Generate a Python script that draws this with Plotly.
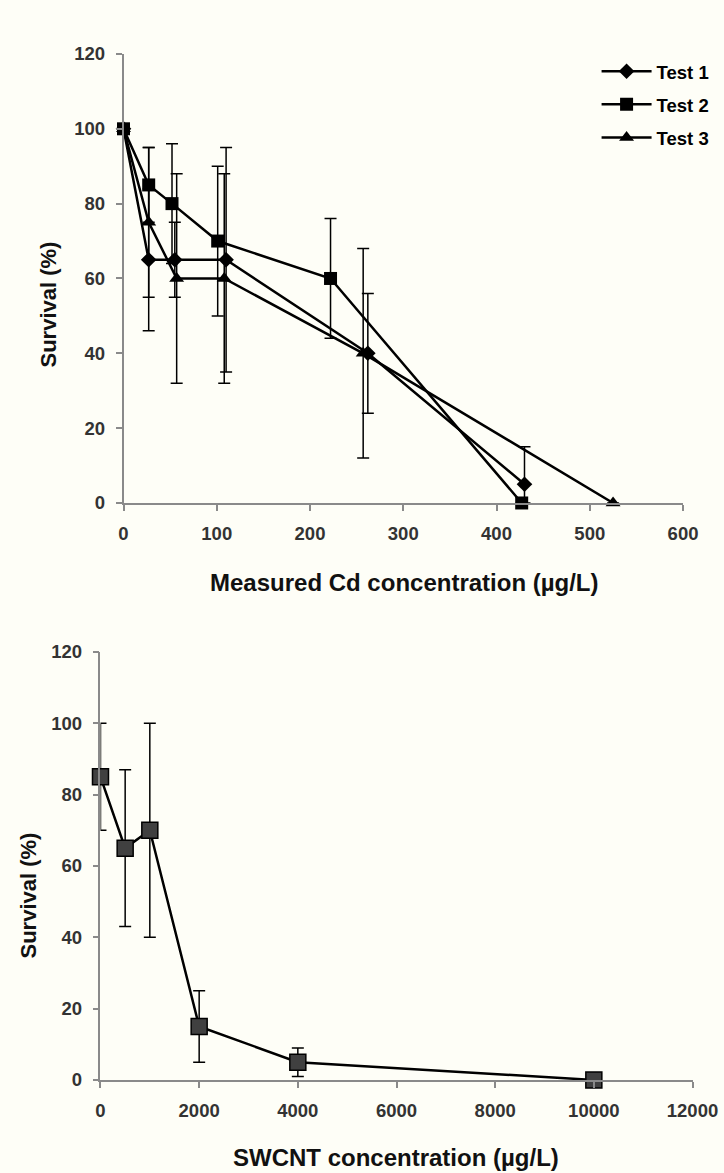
import plotly.graph_objects as go

# ---- Top chart data (Cd) ----
t1_x = [0, 27, 55, 110, 262, 430]
t1_y = [100, 65, 65, 65, 40, 5]
t1_ep = [None, 19, 10, 30, 16, 10]
t1_em = [None, 19, 10, 30, 16, 5]

t2_x = [0, 27, 52, 101, 222, 427]
t2_y = [100, 85, 80, 70, 60, 0]
t2_e = [None, 10, 16, 20, 16, None]

t3_x = [0, 27, 57, 108, 257, 525]
t3_y = [100, 75, 60, 60, 40, 0]
t3_e = [None, 20, 28, 28, 28, None]

# ---- Bottom chart data (SWCNT) ----
sw_x = [0, 500, 1000, 2000, 4000, 10000]
sw_y = [85, 65, 70, 15, 5, 0]
sw_e = [15, 22, 30, 10, 4, None]

top_xticks = [0, 100, 200, 300, 400, 500, 600]
bot_xticks = [0, 2000, 4000, 6000, 8000, 10000, 12000]
yticks = [0, 20, 40, 60, 80, 100, 120]

FONT = "Liberation Sans, Arial, sans-serif"
BG = "#fefef7"

def err(arr, minus=None):
    d = dict(type="data", array=arr, visible=True, color="black",
             thickness=1.5, width=6)
    if minus is not None:
        d["arrayminus"] = minus
        d["symmetric"] = False
    return d

fig = go.Figure()

fig.add_trace(go.Scatter(
    x=t1_x, y=t1_y, name="Test 1", mode="lines+markers",
    line=dict(color="black", width=2.5),
    marker=dict(symbol="diamond", size=12, color="black"),
    error_y=err(t1_ep, t1_em), cliponaxis=False,
    legendgroup="g1", xaxis="x", yaxis="y"))
fig.add_trace(go.Scatter(
    x=t2_x, y=t2_y, name="Test 2", mode="lines+markers",
    line=dict(color="black", width=2.5),
    marker=dict(symbol="square", size=13, color="black"),
    error_y=err(t2_e), cliponaxis=False,
    legendgroup="g2", xaxis="x", yaxis="y"))
fig.add_trace(go.Scatter(
    x=t3_x, y=t3_y, name="Test 3", mode="lines+markers",
    line=dict(color="black", width=2.5),
    marker=dict(symbol="triangle-up", size=13, color="black"),
    error_y=err(t3_e), cliponaxis=False,
    legendgroup="g3", xaxis="x", yaxis="y"))

fig.add_trace(go.Scatter(
    x=sw_x, y=sw_y, name="SWCNT", mode="lines+markers", showlegend=False,
    line=dict(color="black", width=2.5),
    marker=dict(symbol="square", size=16, color="#404040",
                line=dict(color="black", width=1.5)),
    error_y=err(sw_e), cliponaxis=False,
    xaxis="x2", yaxis="y2"))

axis_common = dict(
    showgrid=False, zeroline=False, showline=True, linecolor="#8a8a8a",
    linewidth=1.5, ticks="outside", ticklen=6, tickwidth=1.5,
    tickcolor="#8a8a8a", automargin=False, ticklabelstandoff=7,
    tickfont=dict(family=FONT, size=18.5, color="#333333", weight="bold"),
)

fig.update_layout(
    width=724, height=1173,
    margin=dict(l=0, r=0, t=0, b=0, autoexpand=False),
    paper_bgcolor=BG, plot_bgcolor=BG,
    font=dict(family=FONT, color="black"),
    xaxis=dict(domain=[0.1706, 0.9434], range=[0, 600], tickvals=top_xticks,
               ticktext=[str(v) for v in top_xticks],
               anchor="y", **axis_common),
    yaxis=dict(domain=[0.5712, 0.9540], range=[0, 120], tickvals=yticks,
               ticktext=[str(v) for v in yticks],
               anchor="x", **axis_common),
    xaxis2=dict(domain=[0.1388, 0.9565], range=[0, 12000], tickvals=bot_xticks,
                ticktext=[str(v) for v in bot_xticks],
                anchor="y2", **axis_common),
    yaxis2=dict(domain=[0.0793, 0.4442], range=[0, 120], tickvals=yticks,
                ticktext=[str(v) for v in yticks],
                anchor="x2", **axis_common),
    legend=dict(x=0.824, y=0.955, xanchor="left", yanchor="top",
                bgcolor="rgba(0,0,0,0)", traceorder="grouped",
                tracegroupgap=6, itemwidth=50,
                font=dict(family=FONT, size=18.5, color="black", weight="bold")),
    showlegend=True,
)

title_font_x = dict(family=FONT, size=24, color="#111111", weight="bold")
title_font_y = dict(family=FONT, size=22, color="#111111", weight="bold")

fig.add_annotation(text="Measured Cd concentration (µg/L)", xref="paper", yref="paper",
                   x=404 / 724, y=1 - 582 / 1173, showarrow=False, font=title_font_x,
                   xanchor="center", yanchor="middle")
fig.add_annotation(text="Survival (%)", xref="paper", yref="paper",
                   x=47.5 / 724, y=1 - 305 / 1173, showarrow=False, font=title_font_y,
                   textangle=-90, xanchor="center", yanchor="middle")
fig.add_annotation(text="SWCNT concentration (µg/L)", xref="paper", yref="paper",
                   x=396 / 724, y=1 - 1157 / 1173, showarrow=False, font=title_font_x,
                   xanchor="center", yanchor="middle")
fig.add_annotation(text="Survival (%)", xref="paper", yref="paper",
                   x=27.5 / 724, y=1 - 896 / 1173, showarrow=False, font=title_font_y,
                   textangle=-90, xanchor="center", yanchor="middle")

fig.write_html(
    "out.html",
    config={"displayModeBar": False},
    post_script="document.body.style.margin='0';document.body.style.overflow='hidden';",
)
